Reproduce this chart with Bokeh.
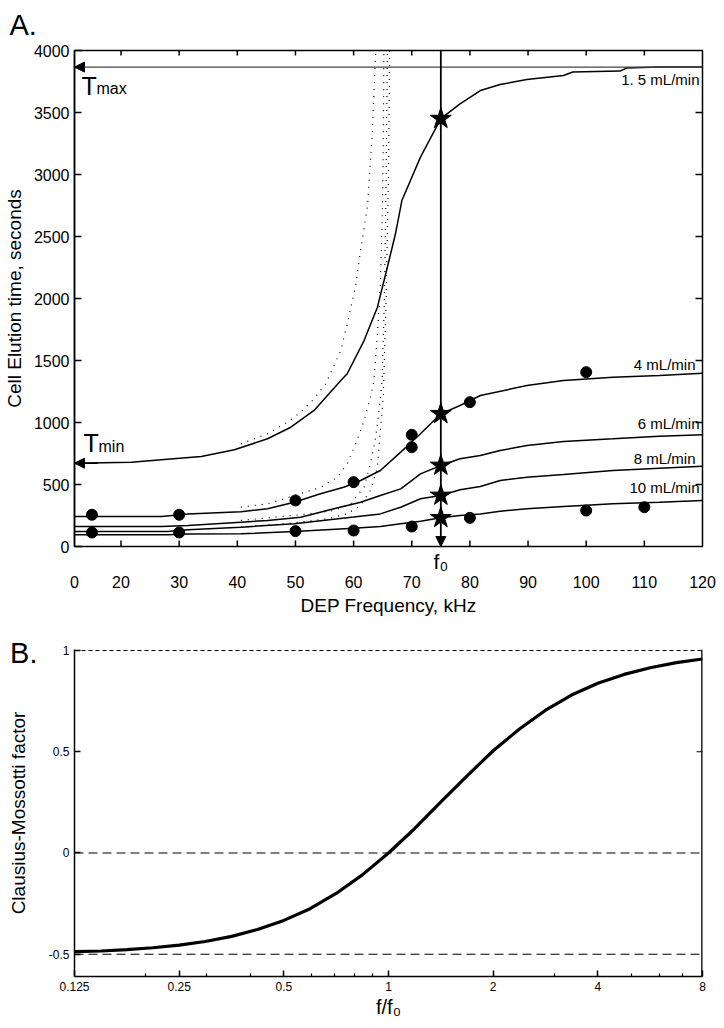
import math
from bokeh.plotting import figure
from bokeh.models import (Range1d, LinearAxis, FixedTicker, Arrow, NormalHead,
                          Label, Span)
from bokeh.layouts import column
from bokeh.embed import file_html
from bokeh.resources import INLINE

FONT = "Liberation Sans"

# ---------------- Panel A data ----------------
freq_15 = [12, 21.8, 26.9, 33.8, 39.5, 45.2, 49.2, 53.2, 57.8, 58.9, 61.8, 64.1, 65.8, 67.2,
           68.3, 71.5, 75, 78.3, 81.8, 85.2, 89.8, 96.1, 97.7, 105.8, 106.9, 112.6, 120]
time_15 = [672, 680, 699, 726, 780, 869, 962, 1097, 1339, 1393, 1661, 1930, 2252, 2522,
           2790, 3140, 3450, 3570, 3677, 3726, 3766, 3799, 3826, 3834, 3858, 3866, 3866]

freq_4 = [12, 27, 31.5, 40.6, 45.2, 49.8, 54.3, 58.3, 61.2, 64.6, 68.1, 71.5, 75, 78.3,
          81.8, 89.8, 96.1, 104.6, 112.6, 120]
time_4 = [242, 242, 263, 280, 304, 357, 425, 478, 532, 613, 761, 909, 1070, 1137,
          1218, 1298, 1339, 1365, 1379, 1398]

freq_6 = [12, 27, 31.5, 40.6, 45.2, 50.9, 56.6, 61.2, 64.6, 68.1, 71.5, 75, 78.3, 81.8,
          85.2, 89.8, 96.1, 104.6, 112.6, 120]
time_6 = [161, 161, 169, 196, 210, 236, 304, 357, 411, 465, 586, 653, 707, 734,
          774, 815, 847, 869, 890, 901]

freq_8 = [12, 28, 31.5, 40.6, 49.8, 60, 64.6, 68.1, 71.5, 75, 78.3, 81.8, 85.2, 89.8,
          96.1, 104.6, 112.6, 120]
time_8 = [121, 121, 135, 156, 183, 237, 263, 317, 385, 411, 457, 484, 532, 559,
          581, 613, 631, 648]

freq_10 = [12, 28, 31.5, 40.6, 49.8, 60, 64.6, 68.1, 71.5, 75, 78.3, 81.8, 85.2, 89.8,
           96.1, 104.6, 112.6, 120]
time_10 = [94, 94, 100, 102, 121, 148, 161, 183, 204, 231, 250, 263, 285, 304,
           323, 344, 357, 371]

# dotted (model) curves
dot1_f = [40.6, 45.2, 48.6, 50.9, 53.2, 55.2, 57.8, 58.9, 60.3, 61.2, 62.4, 63.2, 63.8]
dot1_t = [828, 909, 1002, 1083, 1191, 1312, 1581, 1796, 2091, 2387, 2750, 3328, 4000]
dot2_f = [40.6, 45.2, 49.8, 54.3, 57.2, 58.9, 60.6, 61.8, 62.9, 63.5, 64.1, 64.6, 64.9, 65.1, 65.2]
dot2_t = [317, 344, 411, 478, 559, 667, 855, 1016, 1204, 1339, 1715, 2100, 2600, 3200, 4000]
dot3_f = [40.6, 46.3, 52.6, 56.6, 59.5, 61.8, 62.9, 63.8, 64.3, 64.9, 65.3, 65.6, 65.8]
dot3_t = [210, 236, 264, 290, 344, 478, 667, 882, 1070, 1339, 2000, 3000, 4000]
dot4_f = [40.6, 48.1, 55.5, 58.9, 61.2, 62.9, 64.1, 64.6, 65.1, 65.6, 66.0, 66.2]
dot4_t = [156, 183, 223, 264, 331, 452, 640, 936, 1204, 2000, 3000, 4000]

# measured points
meas4_f = [15, 30, 50, 60, 70, 70, 80, 100]
meas4_t = [256, 256, 371, 519, 901, 801, 1164, 1406]
meas10_f = [15, 30, 50, 60, 70, 80, 100, 110]
meas10_t = [113, 113, 124, 129, 161, 231, 290, 317]

f0 = 75
star_times = [3450, 1070, 653, 411, 231]
t_max = 3866
t_min = 672

flow_labels = ["1. 5 mL/min", "4 mL/min", "6 mL/min", "8 mL/min", "10 mL/min"]

freq_ticks = [12, 20, 30, 40, 50, 60, 70, 80, 90, 100, 110, 120]
freq_tick_labels = ["0", "20", "30", "40", "50", "60", "70", "80", "90", "100", "110", "120"]
time_ticks = [0, 500, 1000, 1500, 2000, 2500, 3000, 3500, 4000]

# ---------------- Panel B data ----------------
cm_ratio = [0.125, 0.149, 0.177, 0.21, 0.25, 0.297, 0.354, 0.42, 0.5, 0.595, 0.707, 0.841,
            1.0, 1.19, 1.41, 1.68, 2.0, 2.38, 2.83, 3.36, 4.0, 4.76, 5.66, 6.73, 8.0]
cm_factor = [-0.487, -0.484, -0.477, -0.468, -0.455, -0.437, -0.412, -0.378, -0.333, -0.275,
             -0.2, -0.108, 0.0, 0.121, 0.25, 0.38, 0.505, 0.612, 0.705, 0.78, 0.838, 0.882,
             0.915, 0.94, 0.958]
cm_ref_levels = [0, -0.5]
cm_top_level = 1
ratio_ticks = [0.125, 0.25, 0.5, 1, 2, 4, 8]
ratio_tick_labels = ["0.125", "0.25", "0.5", "1", "2", "4", "8"]
ratio_minor_ticks = [0.2, 0.3, 0.4, 0.6, 0.7, 0.8, 0.9, 3, 5, 6, 7]
cm_ticks = [-0.5, 0, 0.5, 1]
cm_tick_labels = ["-0.5", "0", "0.5", "1"]
cm_right_ticks = [0.5]
panel_b_mark = 0.988   # vertical position of the "B." panel letter


def style_axis(ax, tick_in, size="16px", line=True, ticks=True):
    ax.major_tick_in = tick_in
    ax.major_tick_out = 0
    ax.minor_tick_in = 0
    ax.minor_tick_out = 0
    ax.axis_line_width = 1.5
    ax.axis_line_color = "black" if line else None
    ax.major_tick_line_width = 1.5
    ax.major_tick_line_color = "black" if ticks else None
    ax.major_label_text_font = FONT
    ax.major_label_text_font_size = size
    ax.major_label_text_color = "black"
    ax.axis_label_text_font = FONT
    ax.axis_label_text_font_style = "normal"
    ax.axis_label_text_color = "black"


def label(p, x, y, text, size, dx=0, dy=0, align="left"):
    p.add_layout(Label(x=x, y=y, x_offset=dx, y_offset=dy, text=text,
                       text_font=FONT, text_font_size=size, text_color="black",
                       text_align=align, text_baseline="alphabetic"))


# ================= Figure A =================
xA = Range1d(12, 120)
yA = Range1d(0, 4000)
pA = figure(width=716, height=625, x_range=xA, y_range=yA,
            output_backend="svg", toolbar_location=None,
            min_border_left=73, min_border_right=13, min_border_top=50, min_border_bottom=79)
pA.grid.visible = False
pA.outline_line_color = "black"
pA.outline_line_width = 1.5
pA.title.text = "A."
pA.title.align = "left"
pA.title.offset = -65
pA.title.standoff = 15
pA.title.vertical_align = "top"
pA.title.text_font = FONT
pA.title.text_font_size = "29px"
pA.title.text_font_style = "normal"
pA.title.text_color = "black"

# axis closest to the frame: only the f0 marker label
ax0 = pA.xaxis[0]
ax0.ticker = FixedTicker(ticks=[f0])
ax0.major_label_overrides = {f0: "f\u2080"}
style_axis(ax0, 0, size="21px", line=False, ticks=False)
ax0.major_label_standoff = 3

# numeric frequency axis below it
ax = LinearAxis(ticker=FixedTicker(ticks=freq_ticks))
ax.major_label_overrides = {t: l for t, l in zip(freq_ticks, freq_tick_labels)}
style_axis(ax, 0, line=False, ticks=False)
ax.major_label_standoff = 0
ax.axis_label = "DEP Frequency, kHz"
ax.axis_label_text_font_size = "19px"
ax.axis_label_standoff = 4
pA.add_layout(ax, "below")

ay = pA.yaxis[0]
ay.ticker = FixedTicker(ticks=time_ticks)
style_axis(ay, 7)
ay.major_label_standoff = 5
ay.axis_label = "Cell Elution time, seconds"
ay.axis_label_text_font_size = "19px"
ay.axis_label_standoff = 6

# inward tick marks on bottom, top and right frame edges
pA.scatter(freq_ticks[1:-1], [yA.start] * (len(freq_ticks) - 2), marker="dash",
           angle=math.pi / 2, size=12, line_color="black", line_width=1.5)
pA.scatter(freq_ticks[1:-1], [yA.end] * (len(freq_ticks) - 2), marker="dash",
           angle=math.pi / 2, size=10, line_color="black", line_width=1.5)
pA.scatter([xA.end] * (len(time_ticks) - 2), time_ticks[1:-1], marker="dash",
           size=14, line_color="black", line_width=1.5)

# dotted model curves
for fx, ty in [(dot1_f, dot1_t), (dot2_f, dot2_t), (dot3_f, dot3_t), (dot4_f, dot4_t)]:
    pA.line(fx, ty, line_color="black", line_width=1.2, line_dash="1 6")

# solid curves
for fx, ty in [(freq_15, time_15), (freq_4, time_4), (freq_6, time_6),
               (freq_8, time_8), (freq_10, time_10)]:
    pA.line(fx, ty, line_color="black", line_width=1.5)

# T max line with arrow
pA.add_layout(Arrow(end=NormalHead(size=10, fill_color="black", line_color="black"),
                    x_start=xA.end, y_start=t_max, x_end=xA.start, y_end=t_max,
                    line_color="#444444", line_width=1.2))
# T min arrow head
pA.add_layout(Arrow(end=NormalHead(size=10, fill_color="black", line_color="black"),
                    x_start=16, y_start=t_min, x_end=xA.start, y_end=t_min,
                    line_color="black", line_width=1.5))
# f0 vertical arrow
pA.add_layout(Arrow(end=NormalHead(size=10, fill_color="black", line_color="black"),
                    x_start=f0, y_start=yA.end, x_end=f0, y_end=yA.start,
                    line_color="black", line_width=1.8))

# measured points
pA.scatter(meas4_f, meas4_t, marker="circle", size=11, fill_color="black", line_color="black")
pA.scatter(meas10_f, meas10_t, marker="circle", size=11, fill_color="black", line_color="black")
# stars at f0
pA.scatter([f0] * len(star_times), star_times, marker="star", size=22,
           fill_color="black", line_color="black")

# flow labels
ends = [time_15[-1], time_4[-1], time_6[-1], time_8[-1], time_10[-1]]
dxs = [-3, -7, -3, -7, -3]
dys = [-12, 9, 11, 8, 13]
for txt, yv, dx, dy in zip(flow_labels, ends, dxs, dys):
    label(pA, xA.end, yv, txt, "15px", dx=dx, dy=dy, align="right")

label(pA, xA.start, t_max, "T", "25px", dx=7, dy=-19)
label(pA, xA.start, t_max, "max", "16px", dx=22, dy=-21)
label(pA, xA.start, t_min, "T", "25px", dx=9, dy=20)
label(pA, xA.start, t_min, "min", "16px", dx=24, dy=17)

# ================= Figure B =================
xB = Range1d(0.125, 8)
yB = Range1d(-0.61, 1.005)
pB = figure(width=716, height=395, x_axis_type="log", x_range=xB, y_range=yB,
            output_backend="svg", toolbar_location=None,
            min_border_left=73, min_border_right=14, min_border_top=24, min_border_bottom=39)
pB.grid.visible = False
pB.outline_line_color = None

bx = pB.xaxis[0]
bx.ticker = FixedTicker(ticks=ratio_ticks, minor_ticks=ratio_minor_ticks)
bx.major_label_overrides = {t: l for t, l in zip(ratio_ticks, ratio_tick_labels)}
style_axis(bx, 6, size="12px")
bx.minor_tick_in = 3
bx.minor_tick_line_color = "black"
bx.minor_tick_line_width = 1.2
bx.major_label_standoff = 5
bx.axis_label = "f/f\u2080"
bx.axis_label_text_font_size = "20px"
bx.axis_label_standoff = 2

by = pB.yaxis[0]
by.ticker = FixedTicker(ticks=cm_ticks)
by.major_label_overrides = {t: l for t, l in zip(cm_ticks, cm_tick_labels)}
style_axis(by, 6, size="12px")
by.major_label_standoff = 5

# outer left axis: carries the panel letter and the axis title
bo = LinearAxis(ticker=FixedTicker(ticks=[panel_b_mark]))
bo.major_label_overrides = {panel_b_mark: "B."}
style_axis(bo, 0, size="29px", line=False, ticks=False)
bo.major_label_standoff = 8
bo.axis_label = "Clausius-Mossotti factor"
bo.axis_label_text_font_size = "19px"
bo.axis_label_standoff = -22
pB.add_layout(bo, "left")

# right frame edge and its tick
pB.add_layout(Span(location=xB.end, dimension="height", line_color="black", line_width=2.6))
pB.scatter([xB.end] * len(cm_right_ticks), cm_right_ticks, marker="dash",
           size=12, line_color="black", line_width=1.2)

pB.add_layout(Span(location=cm_top_level, dimension="width", line_color="black",
                   line_width=1, line_dash="4 3"))
for lvl in cm_ref_levels:
    pB.add_layout(Span(location=lvl, dimension="width", line_color="black",
                       line_width=1.2, line_dash="9 5"))

pB.line(cm_ratio, cm_factor, line_color="black", line_width=3.2)

layout = column(pA, pB)
open("out.html", "w").write(file_html(layout, INLINE))
